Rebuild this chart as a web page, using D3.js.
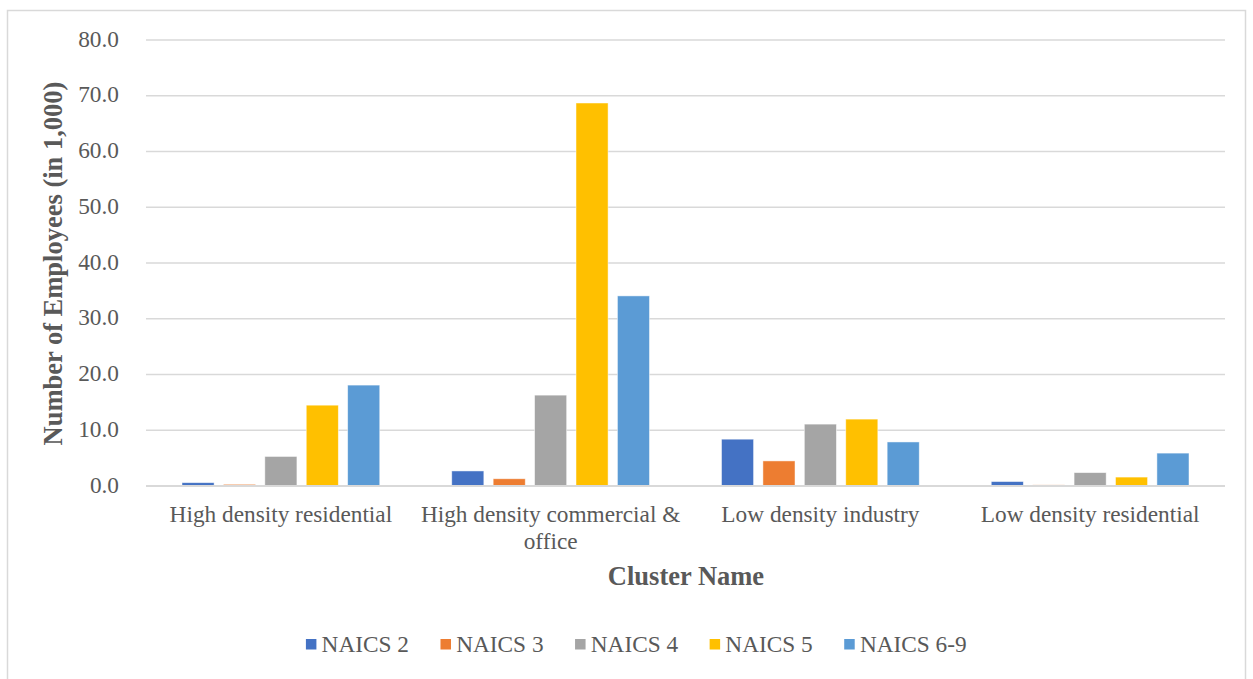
<!DOCTYPE html>
<html><head><meta charset="utf-8">
<script src="https://cdn.jsdelivr.net/npm/d3@7"></script>
<style>body{margin:0;background:#fff;} svg{display:block;}</style>
</head><body>
<svg id="chart" width="1253" height="679"></svg>
<script>
const categories = ["High density residential", "High density commercial & office", "Low density industry", "Low density residential"];
const seriesNames = ["NAICS 2", "NAICS 3", "NAICS 4", "NAICS 5", "NAICS 6-9"];
const naics2 = [0.6, 2.7, 8.4, 0.8];
const naics3 = [0.3, 1.3, 4.5, 0.2];
const naics4 = [5.3, 16.3, 11.1, 2.4];
const naics5 = [14.5, 68.7, 12.0, 1.6];
const naics69 = [18.1, 34.1, 7.9, 5.9];
const yTicks = [0, 10, 20, 30, 40, 50, 60, 70, 80];
const colors = ["#4472C4", "#ED7D31", "#A5A5A5", "#FFC000", "#5B9BD5"];

(function () {
const seriesVals = [naics2, naics3, naics4, naics5, naics69];
const svg = d3.select("#chart");
const font = "'Liberation Serif', 'Times New Roman', serif";
const fs = 23.3, tfs = 26.5;

// outer border
svg.append("rect").attr("x", 7.5).attr("y", 10.5).attr("width", 1238).attr("height", 700)
  .attr("fill", "none").attr("stroke", "#d9d9d9").attr("stroke-width", 1.5);

const pLeft = 146, pRight = 1225, pTop = 40, pBottom = 486;
const y = d3.scaleLinear().domain([0, 80]).range([pBottom, pTop]);
const x0 = d3.scaleBand().domain(categories).range([pLeft, pRight]).padding(0);
const x1 = d3.scaleBand().domain(seriesNames).range([36, x0.bandwidth() - 36]).paddingInner(0.225).paddingOuter(0);

// gridlines
svg.append("g").selectAll("line").data(yTicks.filter(d => d > 0)).join("line")
  .attr("x1", pLeft).attr("x2", pRight).attr("y1", d => y(d)).attr("y2", d => y(d))
  .attr("stroke", "#d9d9d9").attr("stroke-width", 1.3);

// y tick labels
svg.append("g").selectAll("text").data(yTicks).join("text")
  .attr("x", 119).attr("y", d => y(d) + 6.5).attr("text-anchor", "end")
  .attr("font-family", font).attr("font-size", fs).attr("fill", "#595959")
  .text(d => d3.format(".1f")(d));

// bars
const rows = categories.map((c, i) => ({cat: c, vals: seriesNames.map((s, j) => ({s, v: seriesVals[j][i], j}))}));
const g = svg.append("g").selectAll("g").data(rows).join("g")
  .attr("transform", d => `translate(${x0(d.cat)},0)`);
g.selectAll("rect").data(d => d.vals).join("rect")
  .attr("x", d => x1(d.s)).attr("width", x1.bandwidth())
  .attr("y", d => y(d.v)).attr("height", d => y(0) - y(d.v))
  .attr("fill", d => colors[d.j]).attr("stroke", "#fff").attr("stroke-opacity", 0.6).attr("stroke-width", 0.8);

// baseline
svg.append("line").attr("x1", pLeft).attr("x2", pRight).attr("y1", y(0)).attr("y2", y(0))
  .attr("stroke", "#d9d9d9").attr("stroke-width", 2);

// category labels (wrapped)
const catG = svg.append("g");
categories.forEach(c => {
  const cx = x0(c) + x0.bandwidth() / 2;
  const t = catG.append("text").attr("x", cx).attr("y", 522).attr("text-anchor", "middle")
    .attr("font-family", font).attr("font-size", fs).attr("fill", "#595959");
  const words = c.split(" ");
  let line = [];
  let ts = t.append("tspan").attr("x", cx).attr("dy", 0);
  words.forEach(w => {
    line.push(w);
    ts.text(line.join(" "));
    if (ts.node().getComputedTextLength() > 266 && line.length > 1) {
      line.pop(); ts.text(line.join(" "));
      line = [w];
      ts = t.append("tspan").attr("x", cx).attr("dy", 27).text(w);
    }
  });
});

// axis titles
svg.append("text").attr("x", 686).attr("y", 585).attr("text-anchor", "middle")
  .attr("font-family", font).attr("font-size", tfs).attr("font-weight", "bold").attr("fill", "#595959")
  .text("Cluster Name");
svg.append("text").attr("transform", "translate(62,263.5) rotate(-90)").attr("text-anchor", "middle")
  .attr("font-family", font).attr("font-size", tfs).attr("font-weight", "bold").attr("fill", "#595959")
  .text("Number of Employees (in 1,000)");

// legend
const leg = svg.append("g");
let lx = 0;
const gap = 31.5;
seriesNames.forEach((s, j) => {
  const gi = leg.append("g").attr("transform", `translate(${lx},0)`);
  gi.append("rect").attr("x", 0).attr("y", -13).attr("width", 10.5).attr("height", 10.5).attr("fill", colors[j]);
  const t = gi.append("text").attr("x", 15.7).attr("y", 0)
    .attr("font-family", font).attr("font-size", fs).attr("fill", "#595959").text(s);
  lx += 15.7 + t.node().getComputedTextLength() + gap;
});
const totalW = lx - gap;
leg.attr("transform", `translate(${636.3 - totalW / 2},652)`);
})();
</script>
</body></html>
